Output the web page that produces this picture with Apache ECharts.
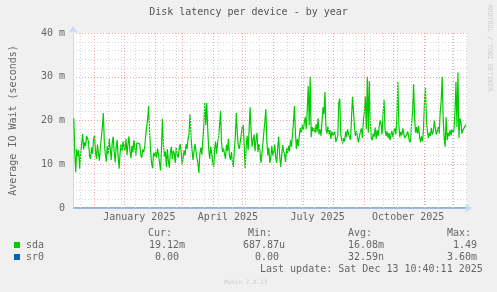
<!DOCTYPE html>
<html>
<head>
<meta charset="utf-8">
<script src="https://cdn.jsdelivr.net/npm/echarts@6/dist/echarts.min.js"></script>
<style>
html,body{margin:0;padding:0;background:#f0f0f0;}
#c{width:497px;height:292px;}
</style>
</head>
<body>
<div id="c"></div>
<script>
// ---- data (daily average IO wait, in milliseconds) ----
const nov2024 = [20.5,12.5,8.2,13.5,11.8,13.2,9.0,12.5,14.8,16.9,13.4,15.0,14.2,16.5,16.8,15.1,12.0,11.2,13.8,12.4,15.5];
const dec2024 = [16.6,13.0,11.2,14.5,12.6,10.8,13.9,16.2,18.5,21.7,15.0,12.4,10.6,14.1,12.2,15.8,13.5,11.0,14.8,16.3,12.9,10.4,13.7,15.6,11.8,9.0,12.5,14.6,13.0,15.2,14.0];
const jan2025 = [13.2,15.8,12.1,14.6,16.4,13.0,11.4,14.2,12.7,15.5,13.8,12.0,14.9,15.2,15.0,14.6,12.1,11.5,13.4,12.8,14.0,16.5,18.6,20.4,23.3,17.2,13.0,10.2,9.1,12.6,11.8];
const feb2025 = [12.8,11.5,13.6,12.2,10.4,8.6,13.1,20.4,14.2,11.8,12.9,9.4,13.5,10.8,9.2,12.6,14.0,11.2,13.1,12.5,10.3,13.8,12.2,11.5,13.4,14.6,12.8,10.0];
const mar2025 = [11.5,13.2,12.0,14.6,13.5,15.8,17.0,21.5,16.2,13.4,11.0,12.8,14.6,13.1,11.5,10.2,8.0,12.4,13.8,12.2,15.6,18.5,24.0,19.0,24.0,17.8,13.5,11.2,14.0,12.6,10.5];
const apr2025 = [9.4,13.5,15.2,12.4,14.8,16.2,18.8,22.2,15.0,12.8,13.6,12.4,11.2,14.5,13.0,15.8,12.0,11.0,12.8,10.5,9.4,13.2,16.5,21.7,17.0,14.2,13.5,15.1,16.8,18.4];
const may2025 = [19.0,14.5,9.1,14.0,16.5,13.2,18.0,23.0,17.5,14.0,15.6,16.8,13.0,15.5,17.2,12.8,14.6,13.0,10.3,12.5,14.8,17.5,19.8,22.6,15.2,12.0,13.8,10.3,11.5,14.2,12.0];
const jun2025 = [12.8,14.5,11.5,10.3,13.8,16.3,12.0,9.4,11.8,14.4,13.0,12.2,10.5,13.6,12.6,14.2,13.0,15.5,14.0,16.8,19.5,23.3,17.0,13.5,15.8,14.2,16.5,18.3,17.2,19.0];
const jul2025 = [17.8,19.5,20.8,18.0,22.5,27.9,19.0,30.0,16.2,18.5,17.6,18.3,17.1,19.2,17.4,20.5,16.8,18.0,16.5,19.8,23.0,21.4,26.5,18.2,17.0,18.6,16.9,17.8,15.8,17.5,16.6];
const aug2025 = [16.2,17.4,15.1,15.8,16.5,24.0,25.0,17.0,15.5,14.8,16.0,15.2,17.5,16.2,18.0,16.8,17.2,15.6,21.0,25.4,25.0,18.3,16.5,17.6,16.2,15.0,16.4,17.5,18.2,16.0,20.0];
const sep2025 = [22.0,25.5,18.0,30.0,17.2,29.0,19.5,16.0,15.5,17.0,16.3,18.4,15.8,17.8,16.5,18.6,20.0,19.2,16.8,21.5,24.7,18.0,16.4,17.5,16.0,17.2,15.5,16.8,17.6,16.2];
const oct2025 = [17.5,18.2,16.8,20.5,28.8,19.0,16.2,17.4,16.6,18.2,17.0,16.0,15.8,16.8,17.5,16.2,15.0,15.6,19.5,22.0,28.3,20.5,17.2,18.5,17.0,18.8,16.5,15.0,16.4,15.2,18.0];
const nov2025 = [24.0,27.6,20.0,17.5,16.0,17.2,16.5,18.3,16.8,17.5,20.0,18.2,16.8,17.6,18.5,17.0,22.0,24.5,30.0,20.5,16.0,14.0,20.8,15.5,17.2,16.4,17.8,16.6,18.0,17.2];
const dec2025 = [18.0,22.0,28.8,18.5,31.0,16.0,20.5,19.8,17.0,17.8,17.5,18.6,19.1];

const monthBlocks = [
  ['2024-11-10', nov2024], ['2024-12-01', dec2024], ['2025-01-01', jan2025],
  ['2025-02-01', feb2025], ['2025-03-01', mar2025], ['2025-04-01', apr2025],
  ['2025-05-01', may2025], ['2025-06-01', jun2025], ['2025-07-01', jul2025],
  ['2025-08-01', aug2025], ['2025-09-01', sep2025], ['2025-10-01', oct2025],
  ['2025-11-01', nov2025], ['2025-12-01', dec2025]
];

const monthStarts = ['2024-12-01','2025-01-01','2025-02-01','2025-03-01','2025-04-01','2025-05-01',
  '2025-06-01','2025-07-01','2025-08-01','2025-09-01','2025-10-01','2025-11-01','2025-12-01'];
const xLabelDates = ['2025-01-16','2025-04-16','2025-07-16','2025-10-16'];
const yTicks = [0, 10, 20, 30, 40];

const statHeaders = ['Cur:', 'Min:', 'Avg:', 'Max:'];
const sdaStats = ['19.12m', '687.87u', '16.08m', '1.49'];
const sr0Stats = ['0.00', '0.00', '32.59n', '3.60m'];
const lastUpdate = 'Last update: Sat Dec 13 10:40:11 2025';

// ---- build: x is measured in days from 2024-12-01 ----
const DAY = 86400000;
function ts(s){ const p = s.split('-').map(Number); return Date.UTC(p[0], p[1]-1, p[2]); }
const EPOCH = ts('2024-12-01');
function dayOf(s){ return (ts(s) - EPOCH) / DAY; }
const sdaData = [], sr0Data = [];
monthBlocks.forEach(([start, vals]) => {
  const d0 = dayOf(start);
  vals.forEach((v, i) => {
    sdaData.push([d0 + i + 0.5, v]);
    sr0Data.push([d0 + i + 0.5, 0]);
  });
});
const xMin = -21.3;
const xMax = xMin + 400;
const grayLines = [];
for (let d = dayOf('2024-11-17'); d < xMax; d += 14) grayLines.push({xAxis: d});
const redLines = monthStarts.map(s => ({xAxis: dayOf(s)}));
const monthNames = ['January','February','March','April','May','June','July','August','September','October','November','December'];

const FONT = '"DejaVu Sans Mono", monospace';
const TXT = '#666666';
const chart = echarts.init(document.getElementById('c'), null, {renderer: 'canvas'});

function txt(text, x, y){
  return {type: 'text', silent: true, style: {text, x, y, fill: TXT, font: '10px ' + FONT, verticalAlign: 'middle'}};
}
const cols = [148, 248, 348, 447];
const sdaX = [149, 243, 348, 453];
const sr0X = [155, 255, 348, 447];
const graphics = [];
statHeaders.forEach((h, i) => graphics.push(txt(h, cols[i], 233)));
sdaStats.forEach((h, i) => graphics.push(txt(h, sdaX[i], 245)));
sr0Stats.forEach((h, i) => graphics.push(txt(h, sr0X[i], 257)));
graphics.push(txt(lastUpdate, 260, 269));
graphics.push({type: 'text', silent: true, style: {text: 'Munin 2.0.37', x: 224, y: 282, fill: '#cccccc', font: '6px ' + FONT, verticalAlign: 'middle'}});
graphics.push({type: 'text', silent: true, x: 490, y: 48, rotation: -Math.PI / 2,
  style: {text: 'RRDTOOL / TOBI OETIKER', x: 0, y: 0, fill: '#cccccc', font: '6.5px ' + FONT, align: 'center', verticalAlign: 'middle'}});

chart.setOption({
  animation: false,
  backgroundColor: '#f0f0f0',
  title: {
    text: 'Disk latency per device - by year',
    left: 'center', top: 2,
    textStyle: {fontFamily: FONT, fontSize: 10, fontWeight: 'normal', color: '#555555'}
  },
  legend: {
    orient: 'vertical', left: 14, top: 239, padding: 0,
    itemWidth: 6, itemHeight: 6, itemGap: 0,
    icon: 'rect', selectedMode: false,
    textStyle: {fontFamily: FONT, fontSize: 10, color: TXT, lineHeight: 12, padding: [0,0,0,1]},
    data: ['sda', 'sr0']
  },
  grid: {left: 67, top: 33, width: 400, height: 175, show: true, backgroundColor: '#ffffff', borderWidth: 0, containLabel: false},
  xAxis: {
    type: 'value', min: xMin, max: xMax,
    axisLine: {show: true, onZero: false, lineStyle: {color: '#cfd6f8', width: 1}, symbol: ['none', 'arrow'], symbolSize: [7, 7], symbolOffset: [0, 5]},
    axisTick: {show: false},
    splitLine: {show: false},
    axisLabel: {
      customValues: xLabelDates.map(dayOf),
      formatter: v => { const d = new Date(EPOCH + v * DAY); return monthNames[d.getUTCMonth()] + ' ' + d.getUTCFullYear(); },
      fontFamily: FONT, fontSize: 10, color: TXT, margin: 4
    }
  },
  yAxis: {
    type: 'value', min: 0, max: 40, interval: 10,
    name: 'Average IO Wait (seconds)', nameLocation: 'middle', nameRotate: 90, nameGap: 55,
    nameTextStyle: {fontFamily: FONT, fontSize: 10, color: TXT},
    axisLine: {show: true, onZero: false, lineStyle: {color: '#cfd6f8', width: 1}, symbol: ['none', 'arrow'], symbolSize: [7, 7], symbolOffset: [0, 7]},
    axisTick: {show: false},
    axisLabel: {
      fontFamily: FONT, fontSize: 10, color: TXT, margin: 8,
      formatter: v => v === yTicks[0] ? '0' : (v + ' m')
    },
    splitLine: {show: true, lineStyle: {color: '#f3a0a0', type: [1, 2], width: 1}},
    minorTick: {show: false, splitNumber: 5},
    minorSplitLine: {show: true, lineStyle: {color: '#d4d4d4', type: [1, 2], width: 1}}
  },
  series: [
    {
      name: 'grid-minor', type: 'line', data: [], silent: true, z: 1,
      markLine: {silent: true, symbol: ['none','none'], label: {show: false}, animation: false,
        lineStyle: {color: '#d4d4d4', type: [1, 2], width: 1}, data: grayLines}
    },
    {
      name: 'grid-major', type: 'line', data: [], silent: true, z: 1,
      markLine: {silent: true, symbol: ['none','none'], label: {show: false}, animation: false,
        lineStyle: {color: '#f3a0a0', type: [1, 2], width: 1}, data: redLines}
    },
    {
      name: 'sda', type: 'line', data: sdaData, showSymbol: false, z: 3,
      itemStyle: {color: '#00cc00'}, lineStyle: {color: '#00cc00', width: 1.2}
    },
    {
      name: 'sr0', type: 'line', data: sr0Data, showSymbol: false, z: 4,
      itemStyle: {color: '#0066b3'}, lineStyle: {color: '#0066b3', width: 1}
    }
  ],
  graphic: graphics
});
</script>
</body>
</html>
